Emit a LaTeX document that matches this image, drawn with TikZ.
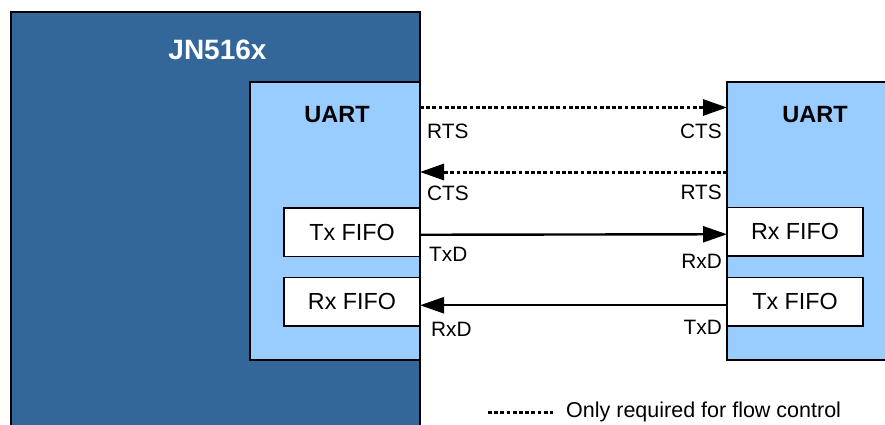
\documentclass[tikz,border=0pt]{standalone}
\usepackage{fontspec}
\setmainfont{Liberation Sans}
\usetikzlibrary{arrows.meta}
\definecolor{chipblue}{RGB}{51,102,153}
\definecolor{uartblue}{RGB}{153,204,255}
\tikzset{
  box/.style={draw=black, line width=1.5pt, inner sep=0pt, outer sep=0pt, anchor=north west},
  fifo/.style={box, fill=white, minimum width=136pt, minimum height=48.5pt, font=\fontsize{23.3}{26}\selectfont},
  sig/.style={line width=2.4pt, -{Triangle[length=24pt,width=16pt]}},
  flow/.style={sig, line width=3pt, dash pattern=on 3.8pt off 2.4pt},
  lbl/.style={inner sep=0pt, font=\fontsize{20.8}{24}\selectfont},
  ttl/.style={inner sep=0pt, font=\bfseries\fontsize{23.5}{26}\selectfont}
}
\begin{document}
\begin{tikzpicture}[x=1pt,y=-1pt]
\useasboundingbox (0,0) rectangle (885,425);
\clip (0,0) rectangle (885,425);
\fill[white] (0,0) rectangle (885,425);
% chip
\node[box, fill=chipblue, minimum width=409pt, minimum height=430pt] (chip) at (11,12) {};
\node[ttl, text=white, font=\bfseries\fontsize{28}{32}\selectfont] (chiplbl) at (217.5,50) {JN516x};
% left UART
\node[box, fill=uartblue, minimum width=170pt, minimum height=278pt] (luart) at (250,82) {};
\node[ttl] (luartlbl) at (337,115) {UART};
\node[fifo] (ltx) at (284,208) {Tx FIFO};
\node[fifo] (lrx) at (284,277.5) {Rx FIFO};
% right UART
\node[box, fill=uartblue, minimum width=180pt, minimum height=278pt] (ruart) at (727,82) {};
\node[ttl] (ruartlbl) at (815,115) {UART};
\node[fifo] (rrx) at (727,207.5) {Rx FIFO};
\node[fifo] (rtx) at (727,277.5) {Tx FIFO};
% connector end points
\coordinate (rtsA) at (420,107.5);
\coordinate (ctsB) at (727,107.5);
\coordinate (rtsB) at (727,172);
\coordinate (ctsA) at (420,172);
% connectors
\draw[flow] (rtsA) -- (ctsB);
\draw[flow] (rtsB) -- (ctsA);
\draw[sig] ([yshift=-2.5pt]ltx.east) -- ([yshift=-2.5pt]rrx.west);
\draw[sig] ([yshift=-3.5pt]rtx.west) -- ([yshift=-3.5pt]lrx.east);
% labels
\node[lbl, anchor=west] (l1) at (427,131) {RTS};
\node[lbl, anchor=east] (l2) at (722,131) {CTS};
\node[lbl, anchor=west] (l3) at (427,193) {CTS};
\node[lbl, anchor=east] (l4) at (722,192) {RTS};
\node[lbl, anchor=west] (l5) at (429,254) {TxD};
\node[lbl, anchor=east] (l6) at (722,261) {RxD};
\node[lbl, anchor=west] (l7) at (431,329) {RxD};
\node[lbl, anchor=east] (l8) at (722,327) {TxD};
% legend
\coordinate (legA) at (488,412);
\coordinate (legB) at (553,412);
\draw[line width=3pt, dash pattern=on 3.8pt off 2.4pt] (legA) -- (legB);
\node[lbl, anchor=west, font=\fontsize{21.5}{24}\selectfont] (legtxt) at (566,412) {Only required for flow control};
\end{tikzpicture}
\end{document}
